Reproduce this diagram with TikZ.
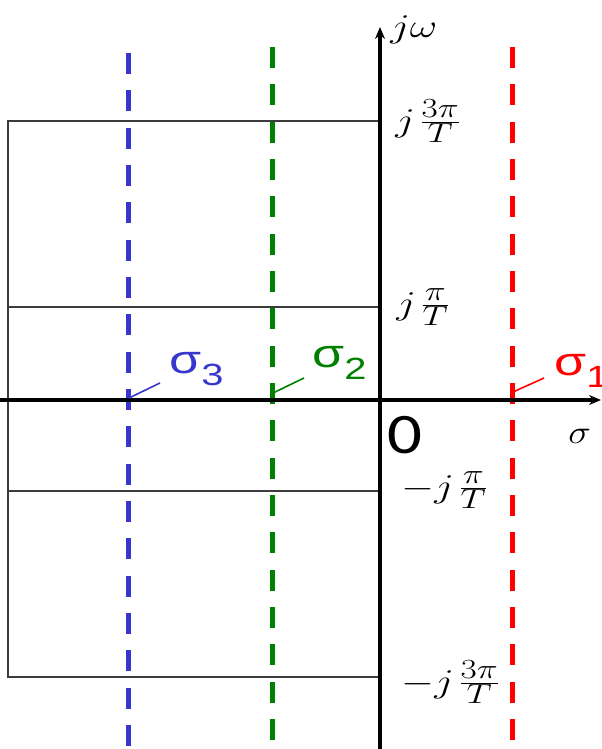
\documentclass[tikz,border=0pt]{standalone}
\usepackage{fontspec}
\newfontfamily\arialfont{Liberation Sans}
\newfontfamily\zerofont{Carlito}
\usetikzlibrary{arrows.meta}
\definecolor{sigblue}{RGB}{55,55,205}
\definecolor{siggreen}{RGB}{0,128,0}
\definecolor{sigred}{RGB}{255,0,0}
\definecolor{gridgray}{RGB}{60,60,60}
\begin{document}
\begin{tikzpicture}[x=0.75pt,y=-0.75pt,
  gridline/.style={draw=gridgray, line width=1.5pt},
  axisline/.style={line width=2.7pt, -{Stealth[length=9pt,width=7.5pt]}},
  sigline/.style={line width=3.75pt, dash pattern=on 15.75pt off 12.25pt},
  leader/.style={line width=1.2pt},
  mathlbl/.style={font=\fontsize{29}{34}\selectfont, anchor=base west, inner sep=0pt, xscale=1.28},
  siglbl/.style={font=\arialfont\fontsize{30}{36}\selectfont, anchor=base west, inner sep=0pt, xscale=1.3}]
\useasboundingbox (0,0) rectangle (601,749);
% grid rectangle
\coordinate (r1) at (380,121);
\coordinate (r2) at (8,121);
\coordinate (r3) at (8,677);
\coordinate (r4) at (380,677);
\coordinate (h1a) at (8,307);
\coordinate (h1b) at (380,307);
\coordinate (h2a) at (8,491);
\coordinate (h2b) at (380,491);
\draw[gridline] (r1) -- (r2) -- (r3) -- (r4);
\draw[gridline] (h1a) -- (h1b);
\draw[gridline] (h2a) -- (h2b);
% dashed sigma lines
\coordinate (b1) at (128,53);  \coordinate (b2) at (128,749);
\coordinate (g1) at (272,47);  \coordinate (g2) at (272,749);
\coordinate (d1) at (512,47);  \coordinate (d2) at (512,749);
\draw[sigline, sigblue] (b1) -- (b2);
\draw[sigline, siggreen] (g1) -- (g2);
\draw[sigline, sigred] (d1) -- (d2);
% axes
\coordinate (xa) at (0,400);  \coordinate (xb) at (601,400);
\coordinate (ya) at (380,749); \coordinate (yb) at (380,27);
\draw[axisline] (xa) -- (xb);
\draw[axisline] (ya) -- (yb);
% axis labels
\node[mathlbl] (jw) at (390,38) {$j\omega$};
\node[mathlbl, xscale=0.9] (sig) at (568,443) {$\sigma$};
\node[anchor=base west, inner sep=0pt, font=\zerofont\fontsize{43}{50}\selectfont, xscale=1.2] (zero) at (387,453) {0};
\node[mathlbl] (l1) at (395,131) {$j\mkern2mu\frac{3\pi}{T}$};
\node[mathlbl] (l2) at (396,314) {$j\mkern2mu\frac{\pi}{T}$};
\node[mathlbl] (l3) at (401,497) {$-j\mkern2mu\frac{\pi}{T}$};
\node[mathlbl] (l4) at (401,692) {$-j\mkern2mu\frac{3\pi}{T}$};
% sigma labels
\node[siglbl, text=sigblue] (s3) at (169,373) {σ\raisebox{-9pt}{\fontsize{23}{28}\selectfont 3}};
\node[siglbl, text=siggreen] (s2) at (312,367) {σ\raisebox{-9.5pt}{\fontsize{23}{28}\selectfont 2}};
\node[siglbl, text=sigred] (s1) at (554,375) {σ\raisebox{-9pt}{\fontsize{23}{28}\selectfont 1}};
\coordinate (p3a) at (129,398); \coordinate (p3b) at (160,383);
\coordinate (p2a) at (273,393); \coordinate (p2b) at (304,378);
\coordinate (p1a) at (513,392); \coordinate (p1b) at (544,378);
\draw[leader, sigblue] (p3a) -- (p3b);
\draw[leader, siggreen] (p2a) -- (p2b);
\draw[leader, sigred] (p1a) -- (p1b);
\end{tikzpicture}
\end{document}
